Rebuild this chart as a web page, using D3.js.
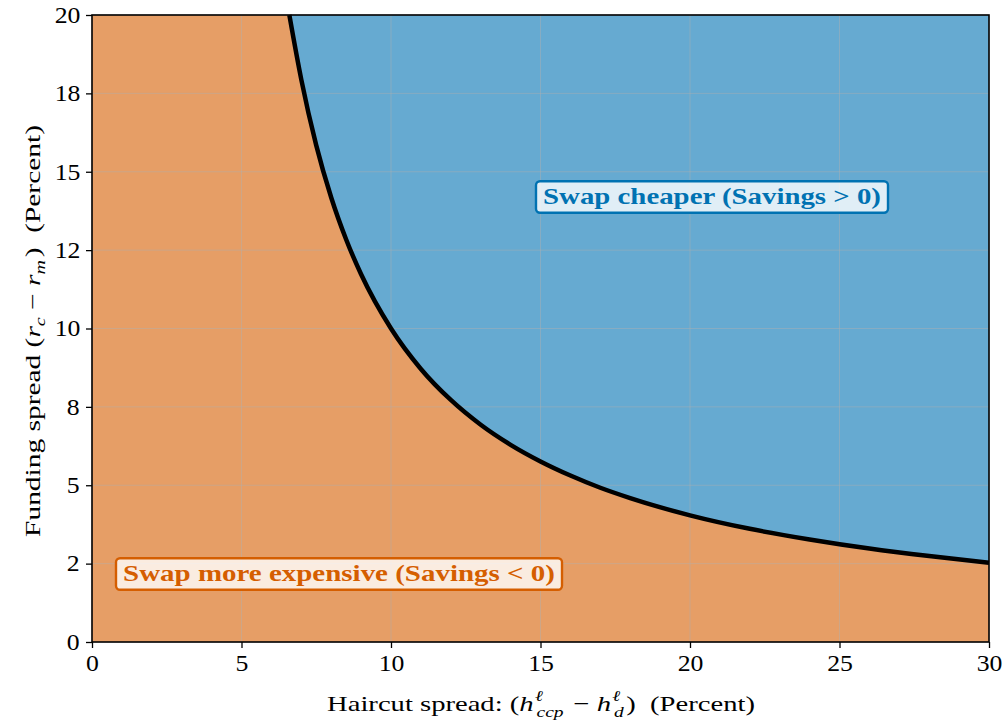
<!DOCTYPE html>
<html><head><meta charset="utf-8">
<script src="https://cdn.jsdelivr.net/npm/d3@7"></script>
<style>body{margin:0;background:#fff}svg text{font-family:"Liberation Serif","DejaVu Serif",serif}</style>
</head><body><svg id="c" width="1006" height="726"></svg>
<script>
// Boundary where savings = 0
const haircut = [6.6, 7, 7.5, 8, 8.5, 9, 10, 11, 12, 13, 14, 15, 16, 17, 18, 20, 22, 24, 26, 28, 30];
const funding = [20.0, 17.94, 15.84, 14.18, 12.84, 11.73, 10.0, 8.71, 7.72, 6.93, 6.29, 5.76, 5.31, 4.92, 4.59, 4.04, 3.61, 3.27, 2.98, 2.74, 2.53];
const xTicks = [0, 5, 10, 15, 20, 25, 30];
const yTicks = [0, 2.5, 5, 7.5, 10, 12.5, 15, 17.5, 20];
const yTickLabels = ["0", "2", "5", "8", "10", "12", "15", "18", "20"];
const regionLabels = ["Swap cheaper (Savings > 0)", "Swap more expensive (Savings < 0)"];

const svg = d3.select("#c");
const L = 92, R = 989, T = 15, B = 642;
const x = d3.scaleLinear().domain([0, 30]).range([L, R]);
const y = d3.scaleLinear().domain([0, 20]).range([B, T]);
const blue = "#0072B2", orange = "#D55E00";
const pts = haircut.map((h, i) => [h, funding[i]]);

// stretch text horizontally (in its own frame) to a target width, keeping it centred
function fit(t, target, vertical) {
  const bb = t.node().getBBox();
  const s = target / bb.width;
  const c = bb.x + bb.width / 2;
  const prev = t.attr("transform") || "";
  t.attr("transform", prev + ` translate(${c},0) scale(${s},1) translate(${-c},0)`);
}

// orange background region
svg.append("rect").attr("x", L).attr("y", T).attr("width", R - L).attr("height", B - T)
  .attr("fill", orange).attr("fill-opacity", 0.6);
const area = d3.area().x(d => x(d[0])).y0(y(20)).y1(d => y(d[1])).curve(d3.curveMonotoneX);
svg.append("path").datum(pts).attr("d", area).attr("fill", "#fff");
svg.append("path").datum(pts).attr("d", area).attr("fill", blue).attr("fill-opacity", 0.6);

// grid
const g = svg.append("g");
xTicks.forEach(t => g.append("line").attr("x1", x(t)).attr("x2", x(t)).attr("y1", T).attr("y2", B)
  .attr("stroke", "#b0b0b0").attr("stroke-opacity", 0.45).attr("stroke-width", 1));
yTicks.forEach(t => g.append("line").attr("x1", L).attr("x2", R).attr("y1", y(t)).attr("y2", y(t))
  .attr("stroke", "#b0b0b0").attr("stroke-opacity", 0.45).attr("stroke-width", 1));

// curve
svg.append("path").datum(pts)
  .attr("d", d3.line().x(d => x(d[0])).y(d => y(d[1])).curve(d3.curveMonotoneX))
  .attr("fill", "none").attr("stroke", "#000").attr("stroke-width", 4.5);

// axes
const xa = svg.append("g").attr("transform", `translate(0,${B})`)
  .call(d3.axisBottom(x).tickValues(xTicks).tickFormat(d3.format("d")).tickSize(6).tickPadding(5));
const ya = svg.append("g").attr("transform", `translate(${L},0)`)
  .call(d3.axisLeft(y).tickValues(yTicks).tickFormat((d, i) => yTickLabels[i]).tickSize(6).tickPadding(7));
[xa, ya].forEach(a => {
  a.select(".domain").remove();
  a.selectAll("line").attr("stroke", "#000").attr("stroke-width", 1.3);
  a.selectAll("text").attr("font-size", 23).attr("fill", "#000");
});
xa.selectAll("text").attr("dy", "0.8em");
xa.selectAll(".tick text").each(function () { fit(d3.select(this), this.getBBox().width * 1.12); });
ya.selectAll(".tick text").each(function () { fit(d3.select(this), this.getBBox().width * 1.12); });
// frame
svg.append("rect").attr("x", L).attr("y", T).attr("width", R - L).attr("height", B - T)
  .attr("fill", "none").attr("stroke", "#000").attr("stroke-width", 1.6);

// axis labels
const xl = svg.append("text").attr("x", 541).attr("y", 711).attr("text-anchor", "middle").attr("font-size", 22);
xl.append("tspan").text("Haircut spread: (");
xl.append("tspan").attr("font-style", "italic").text("h");
xl.append("tspan").attr("font-style", "italic").attr("font-size", 15).attr("dy", -10).attr("dx", 1).text("ℓ");
xl.append("tspan").attr("font-style", "italic").attr("font-size", 15).attr("dy", 16).attr("dx", -5).text("ccp");
xl.append("tspan").attr("dy", -6).attr("dx", 2).text(" − ");
xl.append("tspan").attr("font-style", "italic").text("h");
xl.append("tspan").attr("font-style", "italic").attr("font-size", 15).attr("dy", -10).attr("dx", 1).text("ℓ");
xl.append("tspan").attr("font-style", "italic").attr("font-size", 15).attr("dy", 16).attr("dx", -5).text("d");
xl.append("tspan").attr("dy", -6).attr("dx", 2).text(")\u00a0\u00a0(Percent)");
fit(xl, 428);

const yl = svg.append("text").attr("x", 0).attr("y", 0)
  .attr("text-anchor", "middle").attr("font-size", 22);
yl.append("tspan").text("Funding spread (");
yl.append("tspan").attr("font-style", "italic").text("r");
yl.append("tspan").attr("font-style", "italic").attr("font-size", 15).attr("dy", 5).text("c");
yl.append("tspan").attr("dy", -5).text(" − ");
yl.append("tspan").attr("font-style", "italic").text("r");
yl.append("tspan").attr("font-style", "italic").attr("font-size", 15).attr("dy", 5).text("m");
yl.append("tspan").attr("dy", -5).attr("dx", 2).text(")\u00a0\u00a0(Percent)");
yl.attr("transform", "translate(40,331) rotate(-90)");
fit(yl, 412);

// region labels
function box(cx, cy, label, col, w) {
  const t = svg.append("text").attr("x", cx).attr("y", cy).attr("text-anchor", "middle")
    .attr("dominant-baseline", "central").attr("font-size", 23).attr("font-weight", "bold")
    .attr("fill", col).text(label);
  fit(t, w);
  const bb = t.node().getBBox();
  svg.insert("rect", () => t.node()).attr("x", cx - w / 2 - 7).attr("y", bb.y - 3)
    .attr("width", w + 14).attr("height", bb.height + 6).attr("rx", 4)
    .attr("fill", "#fff").attr("fill-opacity", 0.8).attr("stroke", col).attr("stroke-width", 2.4);
}
box(712, 197, regionLabels[0], blue, 338);
box(339, 574, regionLabels[1], orange, 432);
</script></body></html>
